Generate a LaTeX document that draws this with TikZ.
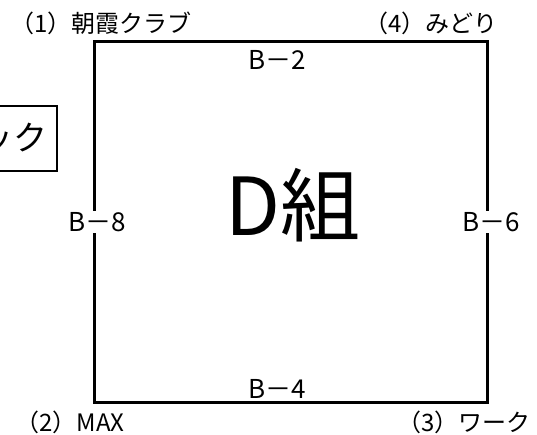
\documentclass[tikz,border=0pt]{standalone}
\usepackage{fontspec}
\newfontfamily\jp{Noto Sans CJK JP}
\begin{document}
\begin{tikzpicture}[x=1pt,y=-1pt,
    court/.style={line width=3pt},
    team/.style={font=\jp\fontsize{24}{27}\selectfont, inner sep=1pt},
    side/.style={font=\jp\fontsize{26}{29}\selectfont, fill=white, inner sep=1pt},
    group/.style={font=\jp\fontsize{80}{90}\selectfont, inner sep=0pt}]
    \useasboundingbox (0,0) rectangle (537,435);
    \node[draw, line width=2.5pt, anchor=east, minimum height=65pt, text width=120pt, align=right,
        inner xsep=9pt, font=\jp\fontsize{34}{38}\selectfont] (tag) at (58,138.5) {ック};
    \coordinate (nw) at (94,42);
    \coordinate (se) at (487,402);
    \draw[court] (nw) rectangle (se);
    \node[side] (b2) at (277,60) {B－2};
    \node[side] (b4) at (277,389) {B－4};
    \node[side] (b6) at (491,222) {B－6};
    \node[side] (b8) at (97,222) {B－8};
    \node[group] (dg) at (293,205) {D組};
    \node[team] (t1) at (101,23) {（1）朝霞クラブ};
    \node[team] (t4) at (431,23) {（4）みどり};
    \node[team] (t2) at (70,422) {（2）MAX};
    \node[team] (t3) at (464,422) {（3）ワーク};
\end{tikzpicture}
\end{document}
